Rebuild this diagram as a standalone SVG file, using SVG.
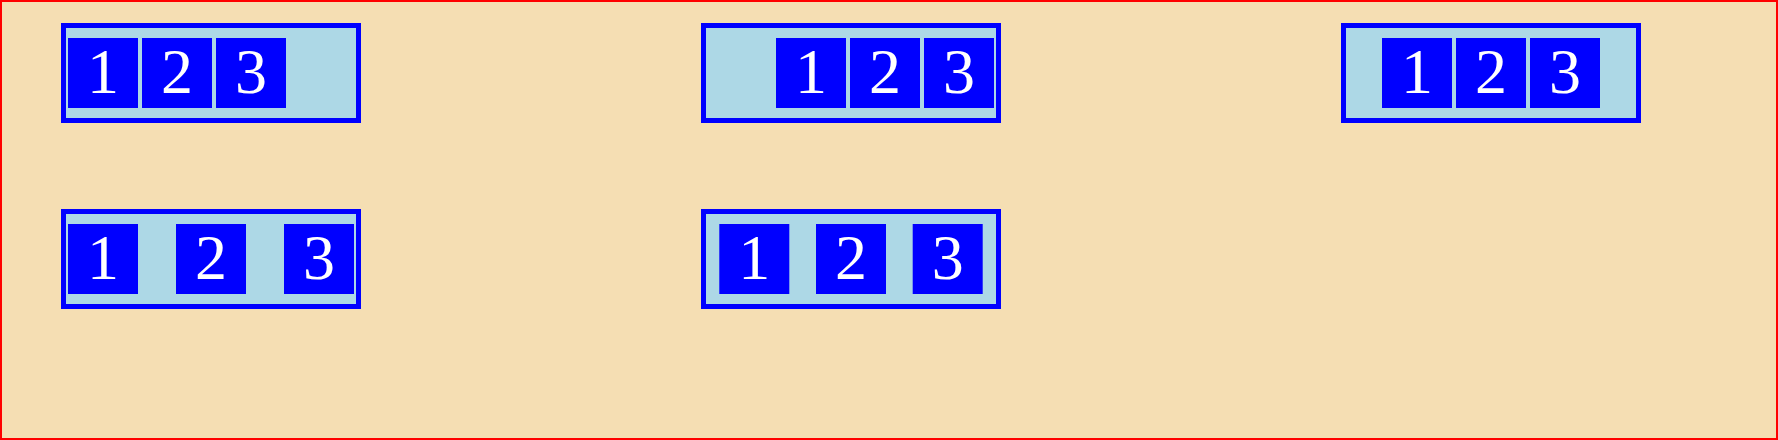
<svg xmlns="http://www.w3.org/2000/svg" width="1778" height="440" viewBox="0 0 1778 440">
<style>
.frame{fill:#ADD8E6;stroke:#0000FF;stroke-width:5}
.item{fill:#0000FF}
.lbl{font-family:"Liberation Serif","Times New Roman",serif;font-size:64px;fill:#FFFFFF;text-anchor:middle}
</style>
<rect x="1" y="1" width="1776" height="438" fill="#F5DEB3" stroke="#FF0000" stroke-width="2"/>
<g id="flex-start">
<rect class="frame" x="63.5" y="25.5" width="295" height="95"/>
<rect class="item" x="68" y="38" width="70" height="70"/><text class="lbl" x="103" y="93">1</text>
<rect class="item" x="142" y="38" width="70" height="70"/><text class="lbl" x="177" y="93">2</text>
<rect class="item" x="216" y="38" width="70" height="70"/><text class="lbl" x="251" y="93">3</text>
</g>
<g id="flex-end">
<rect class="frame" x="703.5" y="25.5" width="295" height="95"/>
<rect class="item" x="776" y="38" width="70" height="70"/><text class="lbl" x="811" y="93">1</text>
<rect class="item" x="850" y="38" width="70" height="70"/><text class="lbl" x="885" y="93">2</text>
<rect class="item" x="924" y="38" width="70" height="70"/><text class="lbl" x="959" y="93">3</text>
</g>
<g id="center">
<rect class="frame" x="1343.5" y="25.5" width="295" height="95"/>
<rect class="item" x="1382" y="38" width="70" height="70"/><text class="lbl" x="1417" y="93">1</text>
<rect class="item" x="1456" y="38" width="70" height="70"/><text class="lbl" x="1491" y="93">2</text>
<rect class="item" x="1530" y="38" width="70" height="70"/><text class="lbl" x="1565" y="93">3</text>
</g>
<g id="space-between">
<rect class="frame" x="63.5" y="211.5" width="295" height="95"/>
<rect class="item" x="68" y="224" width="70" height="70"/><text class="lbl" x="103" y="279">1</text>
<rect class="item" x="176" y="224" width="70" height="70"/><text class="lbl" x="211" y="279">2</text>
<rect class="item" x="284" y="224" width="70" height="70"/><text class="lbl" x="319" y="279">3</text>
</g>
<g id="space-around">
<rect class="frame" x="703.5" y="211.5" width="295" height="95"/>
<rect class="item" x="719.3" y="224" width="70" height="70"/><text class="lbl" x="754.3" y="279">1</text>
<rect class="item" x="816" y="224" width="70" height="70"/><text class="lbl" x="851" y="279">2</text>
<rect class="item" x="912.7" y="224" width="70" height="70"/><text class="lbl" x="947.7" y="279">3</text>
</g>
<g id="connectors"/>
</svg>
